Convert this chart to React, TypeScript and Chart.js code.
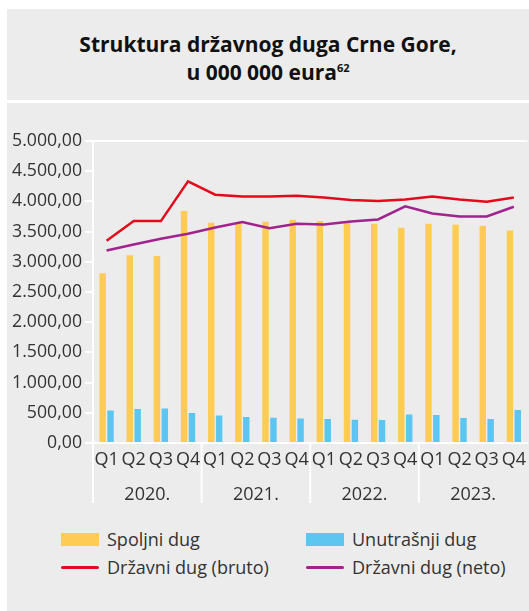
import React, { useEffect, useRef } from 'react';
import { Chart, registerables } from 'chart.js';

Chart.register(...registerables);

const quarters = ['Q1', 'Q2', 'Q3', 'Q4', 'Q1', 'Q2', 'Q3', 'Q4', 'Q1', 'Q2', 'Q3', 'Q4', 'Q1', 'Q2', 'Q3', 'Q4'];
const years = ['2020.', '2021.', '2022.', '2023.'];
const spoljniDug = [2810, 3109, 3098, 3840, 3646, 3640, 3662, 3696, 3674, 3641, 3629, 3563, 3629, 3613, 3596, 3518];
const unutrasnjiDug = [540, 561, 573, 495, 457, 429, 418, 407, 396, 385, 379, 473, 462, 412, 396, 545];
const drzavniBruto = [3347, 3674, 3674, 4332, 4111, 4083, 4083, 4094, 4066, 4023, 4006, 4033, 4083, 4033, 3995, 4066];
const drzavniNeto = [3186, 3286, 3380, 3463, 3568, 3657, 3557, 3629, 3618, 3667, 3701, 3917, 3801, 3751, 3751, 3912];
const yMin = 0;
const yMax = 5000;
const yStep = 500;

const labelsSeries = ['Spoljni dug', 'Unutrašnji dug', 'Državni dug (bruto)', 'Državni dug (neto)'];

const YELLOW = '#fecb55';
const BLUE = '#5cc6f0';
const RED = '#e30a1c';
const PURPLE = '#a2228e';
const BG = '#ececec';
const TEXT = '#333333';
const FONT = "'Open Sans', sans-serif";

function fmt(v: number): string {
  const s = Math.round(v).toString();
  const withDots = s.replace(/\B(?=(\d{3})+(?!\d))/g, '.');
  return withDots + ',00';
}

const yearGroupsPlugin = {
  id: 'yearGroups',
  afterDraw(chart: any) {
    const x = chart.scales.x;
    const { ctx, chartArea } = chart;
    const n = quarters.length / years.length;
    const half = (x.getPixelForValue(1) - x.getPixelForValue(0)) / 2;
    ctx.save();
    ctx.strokeStyle = '#ffffff';
    ctx.lineWidth = 2;
    ctx.fillStyle = TEXT;
    ctx.font = `18px ${FONT}`;
    ctx.textAlign = 'center';
    ctx.textBaseline = 'middle';
    years.forEach((yr, i) => {
      const left = x.getPixelForValue(i * n) - half;
      const right = x.getPixelForValue(i * n + n - 1) + half;
      ctx.beginPath();
      ctx.moveTo(left, chartArea.bottom);
      ctx.lineTo(left, chartArea.bottom + 60);
      ctx.stroke();
      ctx.fillText(yr, (left + right) / 2, chartArea.bottom + 52);
    });
    ctx.restore();
  },
};

function ChartCanvas() {
  const ref = useRef<HTMLCanvasElement | null>(null);
  useEffect(() => {
    if (!ref.current) return;
    Chart.defaults.font.family = FONT;
    const chart = new Chart(ref.current, {
      type: 'bar',
      data: {
        labels: quarters,
        datasets: [
          {
            type: 'line',
            label: labelsSeries[2],
            data: drzavniBruto,
            borderColor: RED,
            backgroundColor: RED,
            borderWidth: 2.5,
            pointRadius: 0,
            tension: 0,
            order: 0,
          } as any,
          {
            type: 'line',
            label: labelsSeries[3],
            data: drzavniNeto,
            borderColor: PURPLE,
            backgroundColor: PURPLE,
            borderWidth: 2.5,
            pointRadius: 0,
            tension: 0,
            order: 0,
          } as any,
          {
            type: 'bar',
            label: labelsSeries[0],
            data: spoljniDug,
            backgroundColor: YELLOW,
            categoryPercentage: 0.58,
            barPercentage: 0.82,
            order: 1,
          },
          {
            type: 'bar',
            label: labelsSeries[1],
            data: unutrasnjiDug,
            backgroundColor: BLUE,
            categoryPercentage: 0.58,
            barPercentage: 0.82,
            order: 1,
          },
        ],
      },
      options: {
        animation: false,
        responsive: true,
        maintainAspectRatio: false,
        layout: { padding: { top: 38, left: 0, right: 0, bottom: 0 } },
        plugins: {
          legend: { display: false },
          tooltip: { enabled: false },
          title: { display: false },
        },
        scales: {
          x: {
            grid: { display: false, drawTicks: false },
            border: { display: true, color: '#ffffff', width: 2 },
            ticks: {
              color: TEXT,
              font: { size: 18, family: FONT },
              padding: 6,
              maxRotation: 0,
              autoSkip: false,
            },
            afterFit: (scale: any) => {
              scale.height = 62;
            },
          },
          y: {
            min: yMin,
            max: yMax,
            ticks: {
              stepSize: yStep,
              color: TEXT,
              font: { size: 17.7, family: FONT },
              padding: 3,
              callback: (v: any) => fmt(Number(v)),
            },
            grid: {
              display: true,
              drawOnChartArea: true,
              drawTicks: true,
              tickLength: 8,
              lineWidth: 2,
              color: (ctx: any) => (ctx.tick && ctx.tick.value === yMax ? '#ffffff' : 'rgba(0,0,0,0)'),
              tickColor: '#ffffff',
            },
            border: { display: true, color: '#ffffff', width: 2 },
            afterFit: (scale: any) => {
              scale.width = 86;
            },
          },
        },
      },
      plugins: [yearGroupsPlugin],
    });
    return () => chart.destroy();
  }, []);
  return (
    <div style={{ position: 'relative', width: 525, height: 402 }}>
      <canvas ref={ref} />
    </div>
  );
}

function LegendItem({ left, top, kind, color, text }: { left: number; top: number; kind: 'box' | 'line'; color: string; text: string }) {
  return (
    <div style={{ position: 'absolute', left, top, height: 24, display: 'flex', alignItems: 'center', whiteSpace: 'nowrap' }}>
      <div
        style={{
          width: 38,
          height: kind === 'box' ? 13 : 3,
          background: color,
          borderRadius: kind === 'line' ? 2 : 0,
          marginRight: 8,
        }}
      />
      <span style={{ fontSize: 18, color: TEXT, fontFamily: FONT, lineHeight: '24px' }}>{text}</span>
    </div>
  );
}

export default function App() {
  return (
    <div style={{ position: 'absolute', left: 7, top: 9, width: 522, height: 602, overflow: 'hidden', fontFamily: FONT }}>
      <div
        style={{
          height: 91,
          background: BG,
          display: 'flex',
          flexDirection: 'column',
          alignItems: 'center',
          justifyContent: 'center',
          color: '#111111',
          fontWeight: 700,
          fontSize: 21,
          lineHeight: '28px',
          textAlign: 'center',
          paddingTop: 6,
          boxSizing: 'border-box',
        }}
      >
        <div>Struktura državnog duga Crne Gore,</div>
        <div>
          u 000 000 eura<sup style={{ fontSize: 11, lineHeight: 0, verticalAlign: 'super' }}>62</sup>
        </div>
      </div>
      <div style={{ position: 'absolute', top: 94, left: 0, width: 522, height: 508, background: BG, overflow: 'hidden' }}>
        <ChartCanvas />
        <LegendItem left={54} top={424} kind="box" color={YELLOW} text={labelsSeries[0]} />
        <LegendItem left={299} top={424} kind="box" color={BLUE} text={labelsSeries[1]} />
        <LegendItem left={54} top={452} kind="line" color={RED} text={labelsSeries[2]} />
        <LegendItem left={299} top={452} kind="line" color={PURPLE} text={labelsSeries[3]} />
      </div>
    </div>
  );
}
